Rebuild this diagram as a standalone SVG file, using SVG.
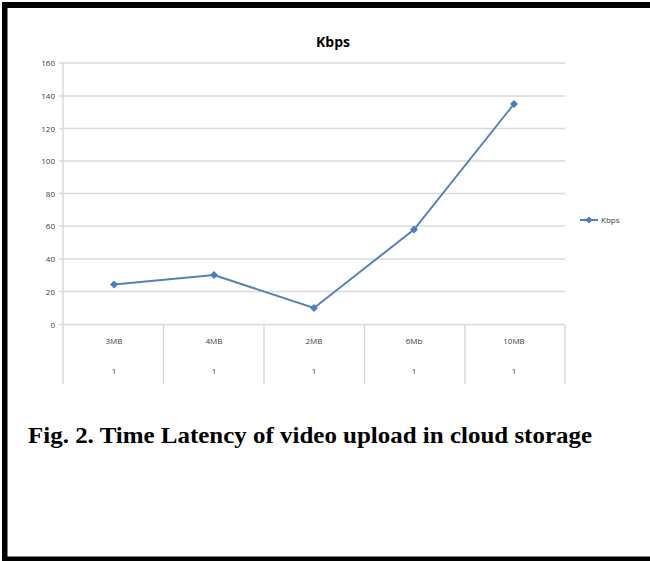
<svg xmlns="http://www.w3.org/2000/svg" width="650" height="561" viewBox="0 0 650 561">
<style>
.grid{stroke:#d9d9d9;stroke-width:1.5}
.ax{font-family:"Open Sans","Liberation Sans",sans-serif;font-size:8px;fill:#404040}
.cat{font-family:"Open Sans","Liberation Sans",sans-serif;font-size:8px;fill:#404040;text-anchor:middle}
.series{fill:none;stroke:#5580b8;stroke-width:2}
</style>
<defs>
<marker id="dot" viewBox="-4 -4 8 8" markerWidth="8" markerHeight="8" markerUnits="userSpaceOnUse">
<path d="M0,-4 L4,0 L0,4 L-4,0 Z" fill="#4a7ebb"/>
</marker>
</defs>
<rect width="650" height="561" fill="#fff"/>
<g id="frame" fill="#000">
<rect x="2" y="2" width="648" height="6"/>
<rect x="2" y="2" width="5.5" height="559"/>
<rect x="2" y="556.5" width="648" height="4.5"/>
</g>
<g id="chart">
<text x="333" y="47" font-family="'Open Sans','Liberation Sans',sans-serif" font-size="14" font-weight="bold" text-anchor="middle" fill="#000">Kbps</text>
<g id="gridlines">
<line class="grid" x1="59" y1="63" x2="565" y2="63"/>
<line class="grid" x1="59" y1="96" x2="565" y2="96"/>
<line class="grid" x1="59" y1="128.5" x2="565" y2="128.5"/>
<line class="grid" x1="59" y1="161" x2="565" y2="161"/>
<line class="grid" x1="59" y1="193.5" x2="565" y2="193.5"/>
<line class="grid" x1="59" y1="226" x2="565" y2="226"/>
<line class="grid" x1="59" y1="259" x2="565" y2="259"/>
<line class="grid" x1="59" y1="291.5" x2="565" y2="291.5"/>
<line class="grid" x1="59" y1="324.5" x2="565" y2="324.5"/>
<line class="grid" x1="63" y1="63" x2="63" y2="384"/>
<line class="grid" x1="163.5" y1="324.5" x2="163.5" y2="384"/>
<line class="grid" x1="264" y1="324.5" x2="264" y2="384"/>
<line class="grid" x1="364.5" y1="324.5" x2="364.5" y2="384"/>
<line class="grid" x1="465" y1="324.5" x2="465" y2="384"/>
<line class="grid" x1="565" y1="324.5" x2="565" y2="384"/>
</g>
<g id="yaxis" class="ax" text-anchor="end">
<text x="55" y="66">160</text>
<text x="55" y="99">140</text>
<text x="55" y="131.5">120</text>
<text x="55" y="164">100</text>
<text x="55" y="196.5">80</text>
<text x="55" y="229">60</text>
<text x="55" y="262">40</text>
<text x="55" y="294.5">20</text>
<text x="55" y="327.5">0</text>
</g>
<g id="xaxis">
<text class="cat" x="114" y="344">3MB</text>
<text class="cat" x="214" y="344">4MB</text>
<text class="cat" x="314" y="344">2MB</text>
<text class="cat" x="414" y="344">6Mb</text>
<text class="cat" x="514" y="344">10MB</text>
<text class="cat" x="114" y="374">1</text>
<text class="cat" x="214" y="374">1</text>
<text class="cat" x="314" y="374">1</text>
<text class="cat" x="414" y="374">1</text>
<text class="cat" x="514" y="374">1</text>
</g>
<g id="connectors">
<polyline class="series" points="114,284.5 214,275 314,308 414,229.5 514,104" marker-start="url(#dot)" marker-mid="url(#dot)" marker-end="url(#dot)"/>
</g>
<g id="legend">
<line x1="580" y1="220" x2="598" y2="220" stroke="#5580b8" stroke-width="2"/>
<path d="M589,216.5 L592.5,220 L589,223.5 L585.5,220 Z" fill="#4a7ebb"/>
<text class="ax" x="601" y="223" font-size="7.5">Kbps</text>
</g>
</g>
<text id="caption" x="28" y="443" font-family="'Liberation Serif','Times New Roman',serif" font-size="23" font-weight="bold" fill="#000" textLength="564" lengthAdjust="spacingAndGlyphs">Fig. 2. Time Latency of video upload in cloud storage</text>
</svg>
